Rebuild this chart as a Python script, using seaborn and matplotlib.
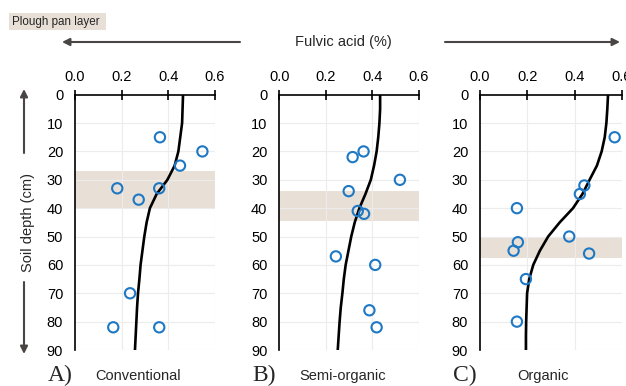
import matplotlib
matplotlib.use("Agg")
import matplotlib.pyplot as plt
import seaborn as sns
import pandas as pd
from matplotlib.patches import FancyArrowPatch, Rectangle

# Measured fulvic acid content (%) and sampling depth (cm) per management system
conv_fa = [0.364, 0.546, 0.450, 0.181, 0.361, 0.273, 0.236, 0.164, 0.361]
conv_depth = [15, 20, 25, 33, 33, 37, 70, 82, 82]

semi_fa = [0.362, 0.315, 0.518, 0.298, 0.337, 0.364, 0.243, 0.412, 0.387, 0.418]
semi_depth = [20, 22, 30, 34, 41, 42, 57, 60, 76, 82]

org_fa = [0.569, 0.441, 0.422, 0.156, 0.377, 0.160, 0.142, 0.461, 0.194, 0.156]
org_depth = [15, 32, 35, 40, 50, 52, 55, 56, 65, 80]

# Fitted depth profiles, sampled every 5 cm
curve_depth = [0, 5, 10, 15, 20, 25, 30, 35, 40, 45, 50, 55, 60, 65, 70, 75, 80, 85, 90]
conv_curve = [0.463, 0.461, 0.459, 0.451, 0.443, 0.427, 0.396, 0.350, 0.321, 0.307,
              0.297, 0.289, 0.281, 0.276, 0.270, 0.266, 0.263, 0.260, 0.257]
semi_curve = [0.433, 0.433, 0.430, 0.425, 0.418, 0.407, 0.393, 0.370, 0.344, 0.324,
              0.309, 0.297, 0.285, 0.277, 0.271, 0.264, 0.259, 0.255, 0.251]
org_curve = [0.541, 0.538, 0.534, 0.527, 0.514, 0.494, 0.463, 0.433, 0.393, 0.337,
             0.288, 0.253, 0.225, 0.208, 0.199, 0.197, 0.195, 0.194, 0.194]

# Plough pan layer extent (top, bottom) in cm
pan_layers = [(27, 40), (34, 44.6), (50.3, 57.5)]

panel_letters = ["A)", "B)", "C)"]
panel_names = ["Conventional", "Semi-organic", "Organic"]

x_ticks = [0.0, 0.2, 0.4, 0.6]
y_ticks = [0, 10, 20, 30, 40, 50, 60, 70, 80, 90]

sns.set_theme(style="white")
plt.rcParams["font.family"] = ["Liberation Sans", "DejaVu Sans"]

PAN_COLOR = "#e8e0d6"
PT_COLOR = "#1f78c4"
ARROW_COLOR = "#4a4545"

fig = plt.figure(figsize=(6.26, 3.86), dpi=100)
W, H = 626, 386
panel_lefts = [75, 279.3, 480]
panel_widths = [140, 139.7, 142]
ax_top, ax_bot = 94.7, 350

points = [(conv_fa, conv_depth), (semi_fa, semi_depth), (org_fa, org_depth)]
curves = [conv_curve, semi_curve, org_curve]

for i in range(3):
    ax = fig.add_axes([panel_lefts[i] / W, 1 - ax_bot / H,
                       panel_widths[i] / W, (ax_bot - ax_top) / H])
    ax.axhspan(pan_layers[i][0], pan_layers[i][1], color=PAN_COLOR, lw=0, zorder=0)
    for xv in x_ticks[1:]:
        ax.axvline(xv, color="#ececec", lw=0.8, zorder=0.5)
    for yv in y_ticks[1:]:
        ax.axhline(yv, color="#ececec", lw=0.8, zorder=0.5)

    curve_df = pd.DataFrame({"fa": curves[i], "depth": curve_depth})
    sns.lineplot(data=curve_df, x="fa", y="depth", sort=False, estimator=None,
                 color="black", lw=1.9, ax=ax, zorder=2)
    pt_df = pd.DataFrame({"fa": points[i][0], "depth": points[i][1]})
    sns.scatterplot(data=pt_df, x="fa", y="depth", ax=ax, s=55,
                    facecolor="none", edgecolor=PT_COLOR, linewidth=1.5, zorder=3)

    ax.set_xlim(0, 0.6)
    ax.set_ylim(90, 0)
    ax.set_xticks(x_ticks)
    ax.set_xticklabels([f"{v:.1f}" for v in x_ticks])
    ax.set_yticks(y_ticks)
    ax.set_yticklabels([str(v) for v in y_ticks])
    ax.xaxis.tick_top()
    ax.set_xlabel("")
    ax.set_ylabel("")
    for side in ("right", "bottom"):
        ax.spines[side].set_visible(False)
    for side in ("left", "top"):
        ax.spines[side].set_color("black")
        ax.spines[side].set_linewidth(1.2)
    ax.tick_params(axis="both", direction="inout", length=7, width=1.2,
                   color="black", labelsize=10.5, labelcolor="black")
    ax.tick_params(axis="x", pad=4)
    ax.tick_params(axis="y", pad=5)
    ax.set_facecolor("white")

    # panel caption along the bottom edge
    fig.text(panel_lefts[i] / W - 27 / W, 1 - 375 / H, panel_letters[i],
             family="Liberation Serif", fontsize=17, ha="left", va="center")
    fig.text((panel_lefts[i] + 63) / W, 1 - 376 / H, panel_names[i],
             fontsize=10.5, ha="center", va="center")

# shared x-axis title with direction arrows
fig.text(343 / W, 1 - 42 / H, "Fulvic acid (%)", fontsize=10.5, ha="center", va="center")
arrow_kw = dict(arrowstyle="-|>", color=ARROW_COLOR, lw=1.5, mutation_scale=11,
                shrinkA=0, shrinkB=0)
fig.add_artist(FancyArrowPatch((240 / W, 1 - 42 / H), (62 / W, 1 - 42 / H),
                               transform=fig.transFigure, **arrow_kw))
fig.add_artist(FancyArrowPatch((445 / W, 1 - 42 / H), (620 / W, 1 - 42 / H),
                               transform=fig.transFigure, **arrow_kw))

# shared y-axis title with direction arrows
fig.text(28 / W, 1 - 222 / H, "Soil depth (cm)", fontsize=10.5, rotation=90,
         ha="center", va="center")
fig.add_artist(FancyArrowPatch((24 / W, 1 - 153 / H), (24 / W, 1 - 89 / H),
                               transform=fig.transFigure, **arrow_kw))
fig.add_artist(FancyArrowPatch((24 / W, 1 - 282 / H), (24 / W, 1 - 354 / H),
                               transform=fig.transFigure, **arrow_kw))

# legend for the shaded layer
fig.add_artist(Rectangle((9 / W, 1 - 30 / H), 97 / W, 17 / H, transform=fig.transFigure,
                         facecolor=PAN_COLOR, edgecolor="none"))
fig.text(12 / W, 1 - 21.5 / H, "Plough pan layer", fontsize=8.4, ha="left", va="center")

fig.savefig("out.png", dpi=100)
